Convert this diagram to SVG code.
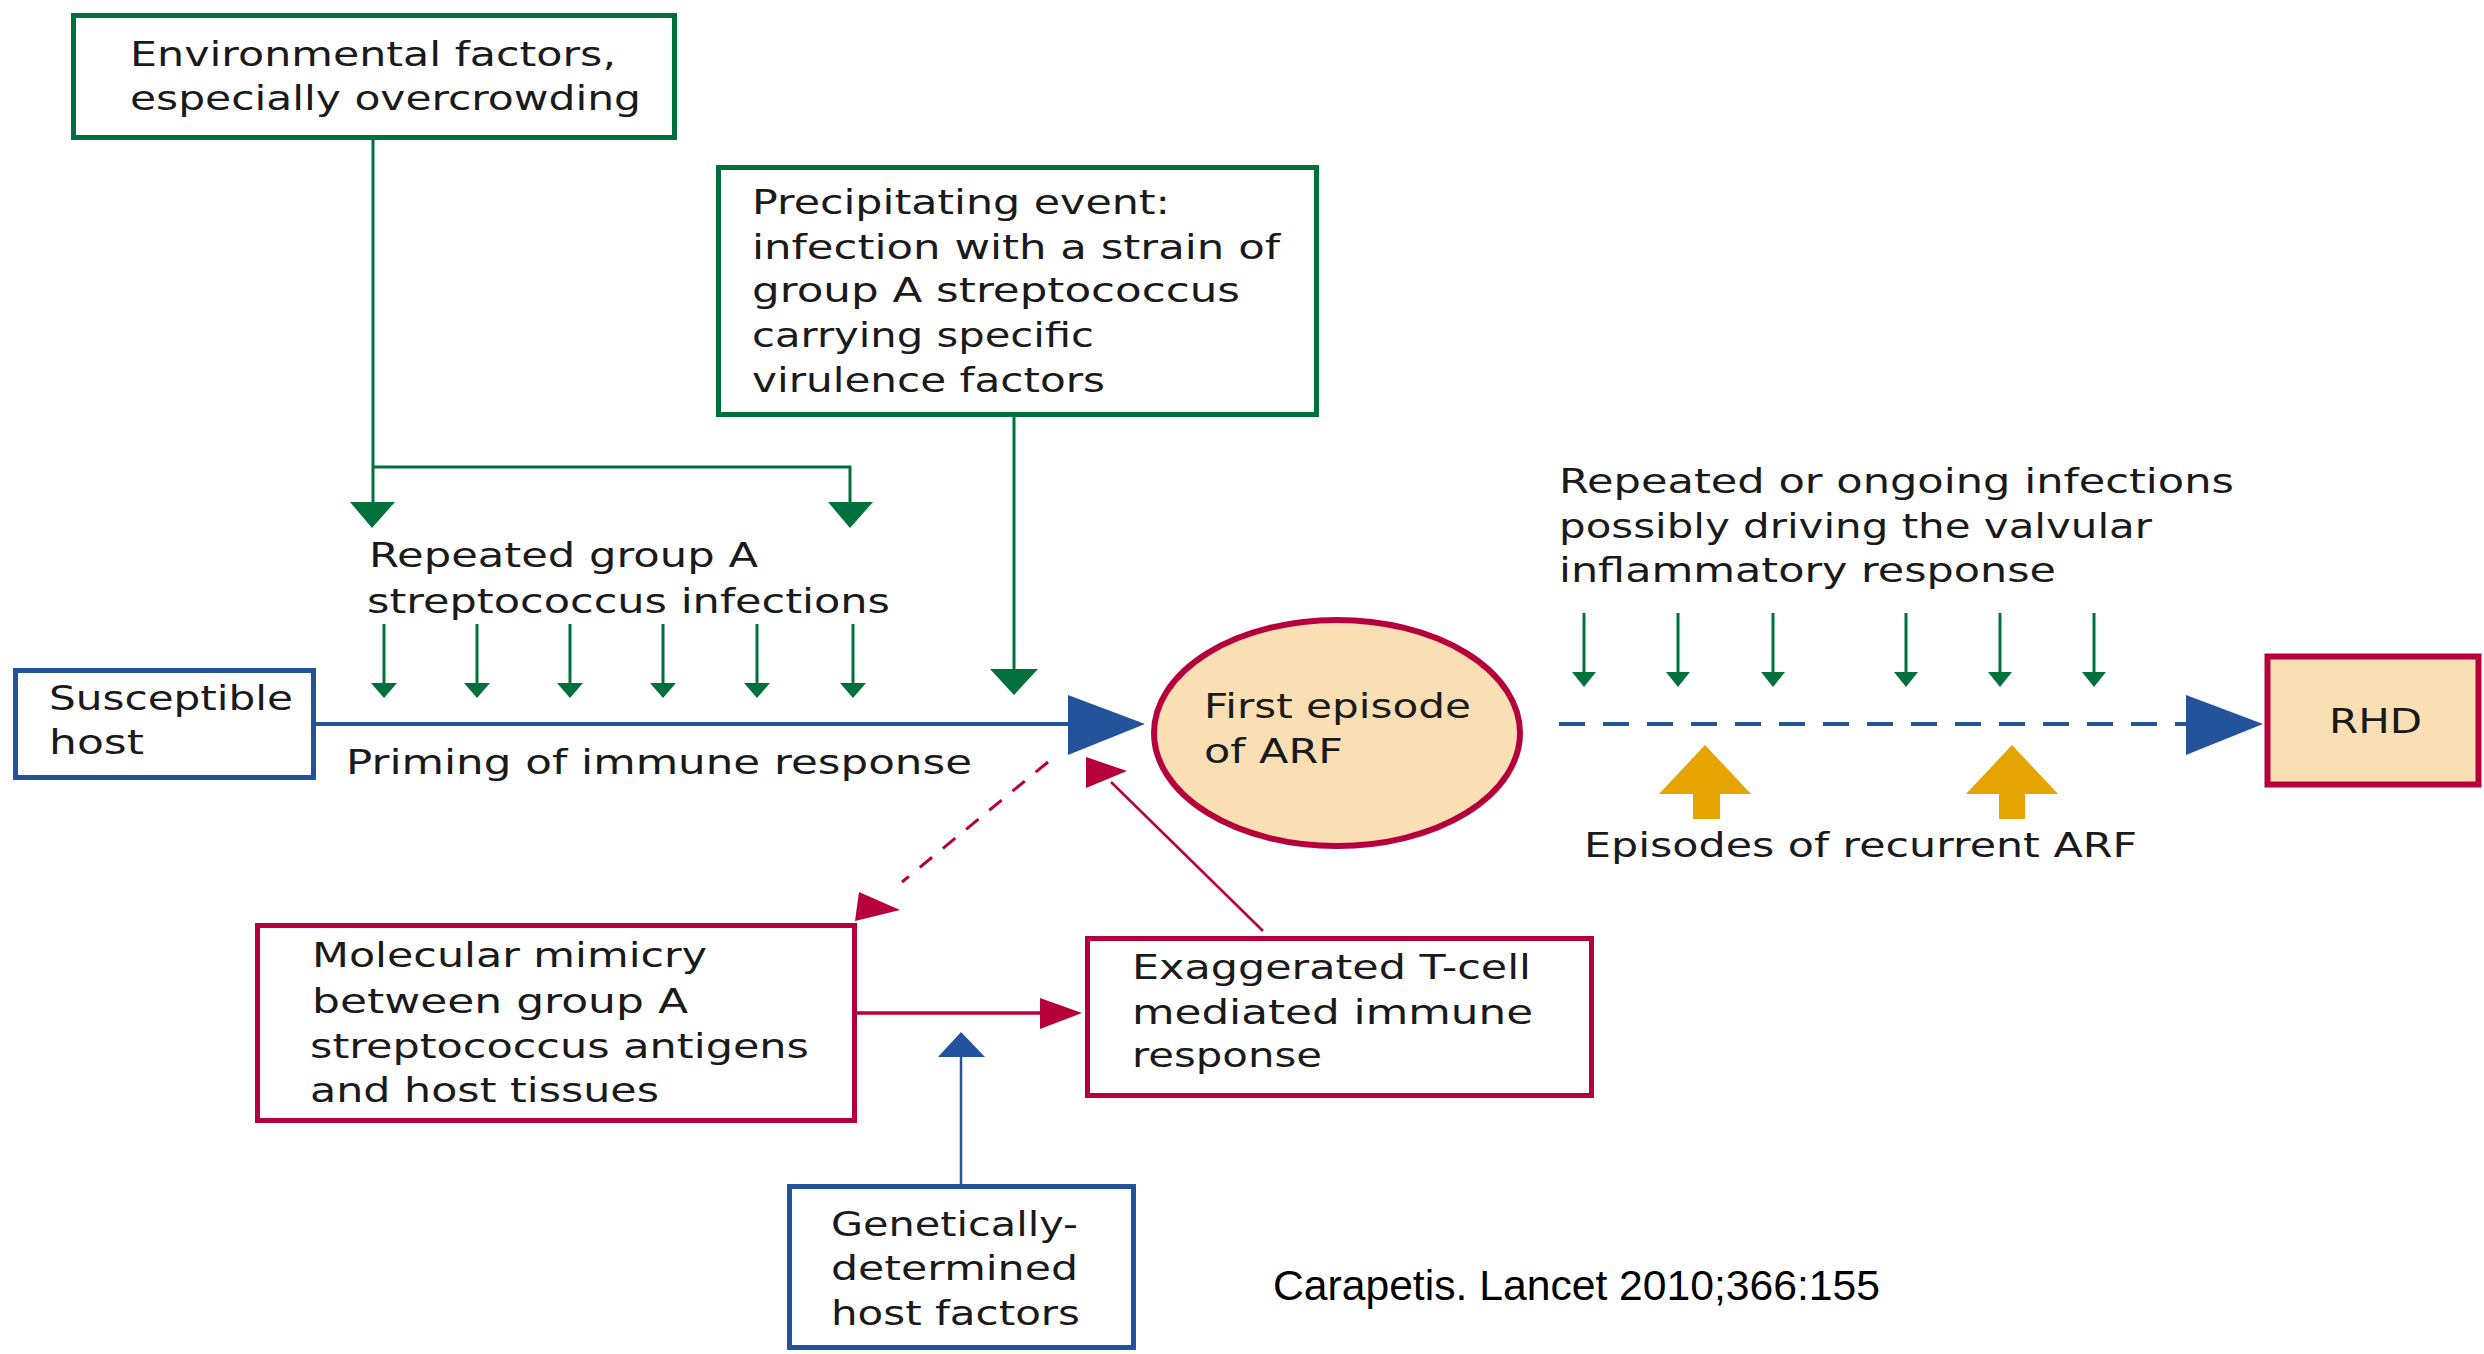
<svg xmlns="http://www.w3.org/2000/svg" width="2484" height="1354" viewBox="0 0 2484 1354">
<style>
text{font-family:"DejaVu Sans","Liberation Sans",sans-serif;font-size:33px;fill:#1a1a1a}
.g{fill:none;stroke:#00703C;stroke-width:5}
.b{fill:none;stroke:#22539B;stroke-width:5}
.r{fill:none;stroke:#B5003C;stroke-width:5}
.rf{fill:#FADFB5;stroke:#B5003C;stroke-width:6}
.gl{stroke:#00703C;stroke-width:3;fill:none}
.gh{fill:#00703C}
.bh{fill:#22539B}
.rh{fill:#B5003C}
.oh{fill:#E5A400}
.cite{font-family:"Liberation Sans",Arial,sans-serif;font-size:43px;fill:#000}
</style>
<rect width="2484" height="1354" fill="#fff"/>
<g id="connectors">
  <polyline class="gl" points="373,140 373,505"/>
  <polyline class="gl" points="373,467 850,467 850,505"/>
  <polygon class="gh" points="350,502 395,502 372,528"/>
  <polygon class="gh" points="828,502 873,502 850,528"/>
  <line class="gl" x1="1014" y1="417" x2="1014" y2="672"/>
  <polygon class="gh" points="990,669 1038,669 1014,695"/>
  <g class="gl">
    <line x1="384" y1="624" x2="384" y2="686"/>
    <line x1="477" y1="624" x2="477" y2="686"/>
    <line x1="570" y1="624" x2="570" y2="686"/>
    <line x1="663" y1="624" x2="663" y2="686"/>
    <line x1="757" y1="624" x2="757" y2="686"/>
    <line x1="853" y1="624" x2="853" y2="686"/>
  </g>
  <g class="gh">
    <polygon points="371,683 397,683 384,698"/>
    <polygon points="464,683 490,683 477,698"/>
    <polygon points="557,683 583,683 570,698"/>
    <polygon points="650,683 676,683 663,698"/>
    <polygon points="744,683 770,683 757,698"/>
    <polygon points="840,683 866,683 853,698"/>
  </g>
  <g class="gl">
    <line x1="1584" y1="613" x2="1584" y2="674"/>
    <line x1="1678" y1="613" x2="1678" y2="674"/>
    <line x1="1773" y1="613" x2="1773" y2="674"/>
    <line x1="1906" y1="613" x2="1906" y2="674"/>
    <line x1="2000" y1="613" x2="2000" y2="674"/>
    <line x1="2094" y1="613" x2="2094" y2="674"/>
  </g>
  <g class="gh">
    <polygon points="1572,672 1596,672 1584,687"/>
    <polygon points="1666,672 1690,672 1678,687"/>
    <polygon points="1761,672 1785,672 1773,687"/>
    <polygon points="1894,672 1918,672 1906,687"/>
    <polygon points="1988,672 2012,672 2000,687"/>
    <polygon points="2082,672 2106,672 2094,687"/>
  </g>
  <line x1="316" y1="724" x2="1070" y2="724" stroke="#22539B" stroke-width="4"/>
  <polygon class="bh" points="1068,695 1145,724 1068,755"/>
  <line x1="1559" y1="724" x2="2186" y2="724" stroke="#22539B" stroke-width="4" stroke-dasharray="26 18"/>
  <polygon class="bh" points="2186,695 2263,724 2186,755"/>
  <polygon class="oh" points="1705,745 1751,794 1720,794 1720,819 1693,819 1693,794 1659,794"/>
  <polygon class="oh" points="2012,745 2058,794 2025,794 2025,819 1999,819 1999,794 1966,794"/>
  <line x1="1048" y1="762" x2="902" y2="882" stroke="#B5003C" stroke-width="3" stroke-dasharray="16 14"/>
  <polygon class="rh" points="859,892 900,910 855,921"/>
  <line x1="1263" y1="931" x2="1111" y2="782" stroke="#B5003C" stroke-width="2.5"/>
  <polygon class="rh" points="1086,757 1127,771 1086,788"/>
  <line x1="857" y1="1013" x2="1042" y2="1013" stroke="#B5003C" stroke-width="3.5"/>
  <polygon class="rh" points="1040,998 1082,1013 1040,1029"/>
  <line x1="961" y1="1185" x2="961" y2="1055" stroke="#22539B" stroke-width="2.5"/>
  <polygon class="bh" points="938,1057 961,1032 985,1057"/>
</g>
<g id="env">
  <rect class="g" x="73.5" y="15.5" width="601" height="122" fill="#fff"/>
  <text x="130" y="66" textLength="486" lengthAdjust="spacingAndGlyphs">Environmental factors,</text>
  <text x="130" y="110" textLength="511" lengthAdjust="spacingAndGlyphs">especially overcrowding</text>
</g>
<g id="precip">
  <rect class="g" x="718.5" y="167.5" width="598" height="247" fill="#fff"/>
  <text x="752" y="214" textLength="418" lengthAdjust="spacingAndGlyphs">Precipitating event:</text>
  <text x="752" y="259" textLength="528" lengthAdjust="spacingAndGlyphs">infection with a strain of</text>
  <text x="752" y="302" textLength="488" lengthAdjust="spacingAndGlyphs">group A streptococcus</text>
  <text x="752" y="347" textLength="342" lengthAdjust="spacingAndGlyphs">carrying specific</text>
  <text x="752" y="392" textLength="353" lengthAdjust="spacingAndGlyphs">virulence factors</text>
</g>
<g id="repeated">
  <text x="369" y="567" textLength="389" lengthAdjust="spacingAndGlyphs">Repeated group A</text>
  <text x="367" y="613" textLength="523" lengthAdjust="spacingAndGlyphs">streptococcus infections</text>
</g>
<g id="host">
  <rect class="b" x="15.5" y="670.5" width="298" height="107" fill="#fff"/>
  <text x="49" y="710" textLength="244" lengthAdjust="spacingAndGlyphs">Susceptible</text>
  <text x="49" y="754" textLength="95" lengthAdjust="spacingAndGlyphs">host</text>
</g>
<g id="priming">
  <text x="346" y="774" textLength="626" lengthAdjust="spacingAndGlyphs">Priming of immune response</text>
</g>
<g id="arf">
  <ellipse class="rf" cx="1337" cy="733" rx="183" ry="113"/>
  <text x="1204" y="718" textLength="267" lengthAdjust="spacingAndGlyphs">First episode</text>
  <text x="1204" y="763" textLength="139" lengthAdjust="spacingAndGlyphs">of ARF</text>
</g>
<g id="ongoing">
  <text x="1559" y="493" textLength="675" lengthAdjust="spacingAndGlyphs">Repeated or ongoing infections</text>
  <text x="1559" y="538" textLength="593" lengthAdjust="spacingAndGlyphs">possibly driving the valvular</text>
  <text x="1559" y="582" textLength="497" lengthAdjust="spacingAndGlyphs">inflammatory response</text>
</g>
<g id="recurrent">
  <text x="1584" y="857" textLength="553" lengthAdjust="spacingAndGlyphs">Episodes of recurrent ARF</text>
</g>
<g id="rhd">
  <rect class="rf" x="2267.5" y="656.5" width="211" height="128" stroke-width="5"/>
  <text x="2329" y="733" textLength="93" lengthAdjust="spacingAndGlyphs">RHD</text>
</g>
<g id="mimicry">
  <rect class="r" x="257.5" y="925.5" width="597" height="195" fill="#fff"/>
  <text x="312" y="967" textLength="395" lengthAdjust="spacingAndGlyphs">Molecular mimicry</text>
  <text x="312" y="1013" textLength="376" lengthAdjust="spacingAndGlyphs">between group A</text>
  <text x="310" y="1058" textLength="499" lengthAdjust="spacingAndGlyphs">streptococcus antigens</text>
  <text x="310" y="1102" textLength="349" lengthAdjust="spacingAndGlyphs">and host tissues</text>
</g>
<g id="tcell">
  <rect class="r" x="1087.5" y="938.5" width="504" height="157" fill="#fff"/>
  <text x="1132" y="979" textLength="399" lengthAdjust="spacingAndGlyphs">Exaggerated T-cell</text>
  <text x="1132" y="1024" textLength="401" lengthAdjust="spacingAndGlyphs">mediated immune</text>
  <text x="1132" y="1067" textLength="190" lengthAdjust="spacingAndGlyphs">response</text>
</g>
<g id="genetic">
  <rect class="b" x="789.5" y="1186.5" width="344" height="161" fill="#fff"/>
  <text x="831" y="1236" textLength="247" lengthAdjust="spacingAndGlyphs">Genetically-</text>
  <text x="831" y="1280" textLength="247" lengthAdjust="spacingAndGlyphs">determined</text>
  <text x="831" y="1325" textLength="249" lengthAdjust="spacingAndGlyphs">host factors</text>
</g>
<g id="citation">
  <text class="cite" x="1273" y="1300" textLength="607" lengthAdjust="spacingAndGlyphs">Carapetis. Lancet 2010;366:155</text>
</g>
</svg>
